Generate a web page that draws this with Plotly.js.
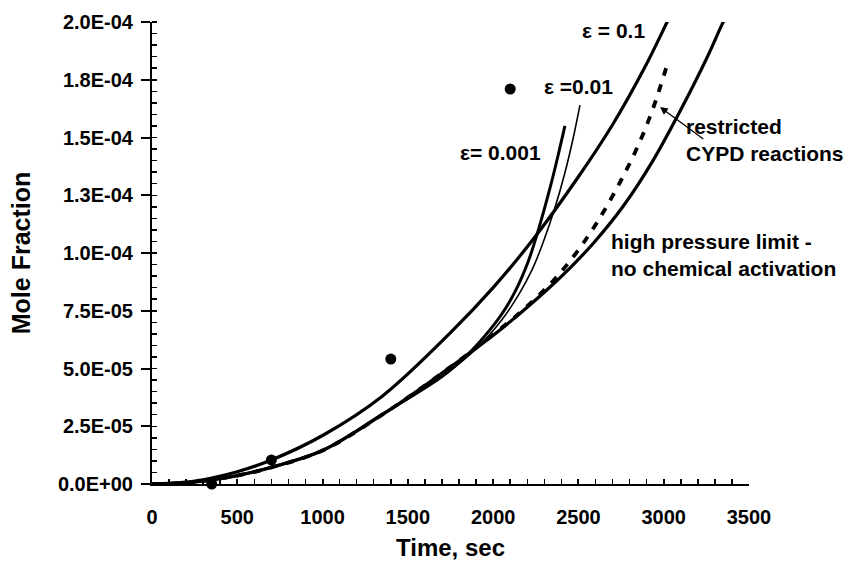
<!DOCTYPE html>
<html>
<head>
<meta charset="utf-8">
<script src="https://cdn.plot.ly/plotly-3.0.1.min.js"></script>
<style>html,body{margin:0;padding:0;background:#fff;}#chart{width:859px;height:569px;}</style>
</head>
<body>
<div id="chart"></div>
<script>
// Experimental points
const expTime = [350, 700, 1400, 2100];
const expMole = [0.0, 1.04e-5, 5.41e-5, 1.71e-4];

// eps = 0.1 curve
const eps01Time = [0, 200, 350, 500, 700, 1000, 1350, 1750, 2000, 2230, 2500, 2700, 2890, 3020, 3060];
const eps01Mole = [0, 8e-7, 2.6e-6, 5.3e-6, 1.04e-5, 2.1e-5, 3.8e-5, 6.55e-5, 8.5e-5, 1.055e-4, 1.33e-4, 1.555e-4, 1.805e-4, 2.0e-4, 2.06e-4];

// eps = 0.01 curve (thin)
const eps001Time = [0, 200, 350, 500, 700, 1000, 1350, 1700, 1900, 2050, 2150, 2230, 2300, 2360, 2420, 2470, 2509];
const eps001Mole = [0, 5e-7, 1.8e-6, 3.7e-6, 7.3e-6, 1.46e-5, 3.02e-5, 4.65e-5, 5.85e-5, 7.1e-5, 8.2e-5, 9.3e-5, 1.06e-4, 1.19e-4, 1.345e-4, 1.5e-4, 1.64e-4];

// eps = 0.001 curve
const eps0001Time = [0, 200, 350, 500, 700, 1000, 1350, 1700, 1850, 1950, 2050, 2130, 2204, 2257, 2300, 2340, 2380, 2421];
const eps0001Mole = [0, 5e-7, 1.8e-6, 3.7e-6, 7.3e-6, 1.46e-5, 3.02e-5, 4.65e-5, 5.6e-5, 6.4e-5, 7.35e-5, 8.35e-5, 9.6e-5, 1.08e-4, 1.19e-4, 1.3e-4, 1.42e-4, 1.55e-4];

// restricted CYPD reactions (dashed)
const cypdTime = [0, 200, 350, 500, 700, 1000, 1350, 1700, 2040, 2200, 2350, 2470, 2567, 2650, 2750, 2850, 2940, 3025];
const cypdMole = [0, 5e-7, 1.8e-6, 3.6e-6, 7.2e-6, 1.45e-5, 3.0e-5, 4.8e-5, 6.7e-5, 7.7e-5, 8.78e-5, 9.84e-5, 1.084e-4, 1.182e-4, 1.315e-4, 1.465e-4, 1.631e-4, 1.827e-4];

// high pressure limit - no chemical activation
const hpTime = [0, 200, 350, 500, 700, 1000, 1350, 1700, 2040, 2300, 2450, 2585, 2760, 2937, 3100, 3250, 3330, 3380];
const hpMole = [0, 5e-7, 1.8e-6, 3.6e-6, 7.2e-6, 1.45e-5, 3.0e-5, 4.8e-5, 6.67e-5, 8.3e-5, 9.35e-5, 1.04e-4, 1.2e-4, 1.4e-4, 1.62e-4, 1.84e-4, 1.97e-4, 2.05e-4];

const yTickVals = [0, 2.5e-5, 5.0e-5, 7.5e-5, 1.0e-4, 1.25e-4, 1.5e-4, 1.75e-4, 2.0e-4];
const yTickText = ['0.0E+00', '2.5E-05', '5.0E-05', '7.5E-05', '1.0E-04', '1.3E-04', '1.5E-04', '1.8E-04', '2.0E-04'];
const xTickVals = [0, 500, 1000, 1500, 2000, 2500, 3000, 3500];

const FONT = 'Arial, "Liberation Sans", Helvetica, sans-serif';

const traces = [
  {x: hpTime, y: hpMole, mode: 'lines', line: {color: '#000', width: 3.2, shape: 'spline', smoothing: 1}, name: 'hp'},
  {x: cypdTime, y: cypdMole, mode: 'lines', line: {color: '#000', width: 3.8, dash: '8px,9px', shape: 'spline', smoothing: 1}, name: 'cypd'},
  {x: eps01Time, y: eps01Mole, mode: 'lines', line: {color: '#000', width: 3.2, shape: 'spline', smoothing: 1}, name: 'e01'},
  {x: eps001Time, y: eps001Mole, mode: 'lines', line: {color: '#000', width: 1.6, shape: 'spline', smoothing: 1}, name: 'e001'},
  {x: eps0001Time, y: eps0001Mole, mode: 'lines', line: {color: '#000', width: 3, shape: 'spline', smoothing: 1}, name: 'e0001'},
  {x: expTime, y: expMole, mode: 'markers', marker: {color: '#000', size: 11, symbol: 'circle'}, cliponaxis: false, name: 'exp'}
];

const annFont = {family: FONT, size: 21, color: '#000', weight: 'bold'};
const layout = {
  width: 859, height: 569,
  margin: {l: 152, r: 110, t: 22, b: 85},
  paper_bgcolor: '#fff', plot_bgcolor: '#fff',
  showlegend: false,
  font: {family: FONT, color: '#000', weight: 'bold'},
  xaxis: {
    range: [0, 3500], autorange: false,
    showgrid: false, zeroline: false,
    showline: true, linecolor: '#000', linewidth: 2,
    tickmode: 'array', tickvals: xTickVals,
    ticks: 'inside', ticklen: 5, tickwidth: 2, tickcolor: '#000',
    minor: {dtick: 100, ticks: 'inside', ticklen: 5, tickwidth: 1.5, tickcolor: '#000', showgrid: false},
    tickfont: {family: FONT, size: 20, color: '#000', weight: 'bold'},
    ticklabelstandoff: 14,
    title: {text: 'Time, sec', font: {family: FONT, size: 24, color: '#000', weight: 'bold'}, standoff: 12},
    automargin: false
  },
  yaxis: {
    range: [0, 2.0e-4], autorange: false,
    showgrid: false, zeroline: false,
    showline: true, linecolor: '#000', linewidth: 2,
    tickmode: 'array', tickvals: yTickVals, ticktext: yTickText,
    ticks: 'outside', ticklen: 9, tickwidth: 2, tickcolor: '#000',
    minor: {dtick: 5e-6, ticks: 'inside', ticklen: 5, tickwidth: 1.5, tickcolor: '#000', showgrid: false},
    tickfont: {family: FONT, size: 20, color: '#000', weight: 'bold'},
    ticklabelstandoff: 4,
    title: {text: 'Mole Fraction', font: {family: FONT, size: 25, color: '#000', weight: 'bold'}, standoff: 20},
    automargin: false
  },
  annotations: [
    {x: 2509, y: 1.965e-4, xref: 'x', yref: 'y', text: 'ε = 0.1', showarrow: false, xanchor: 'left', yanchor: 'middle', font: annFont},
    {x: 2286, y: 1.719e-4, xref: 'x', yref: 'y', text: 'ε =0.01', showarrow: false, xanchor: 'left', yanchor: 'middle', font: annFont},
    {x: 1794, y: 1.437e-4, xref: 'x', yref: 'y', text: 'ε= 0.001', showarrow: false, xanchor: 'left', yanchor: 'middle', font: annFont},
    {x: 3118, y: 1.49e-4, xref: 'x', yref: 'y', text: 'restricted<br>CYPD reactions', showarrow: false, xanchor: 'left', yanchor: 'middle', align: 'left', font: annFont},
    {x: 2679, y: 9.9e-5, xref: 'x', yref: 'y', text: 'high pressure limit -<br>no chemical activation', showarrow: false, xanchor: 'left', yanchor: 'middle', align: 'left', font: annFont},
    {x: 2978, y: 1.632e-4, xref: 'x', yref: 'y', ax: 3241, ay: 1.489e-4, axref: 'x', ayref: 'y', text: '', showarrow: true, arrowhead: 2, arrowsize: 1.2, arrowwidth: 1.3, arrowcolor: '#000'}
  ]
};

Plotly.newPlot('chart', traces, layout, {displayModeBar: false, staticPlot: true});
</script>
</body>
</html>
